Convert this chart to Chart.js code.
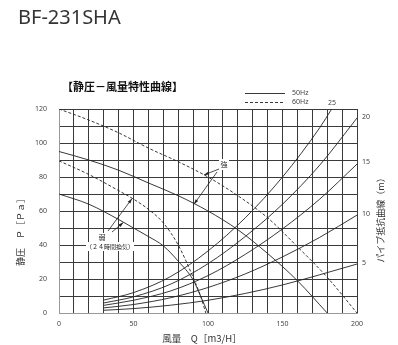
<!DOCTYPE html>
<html>
<head>
<meta charset="utf-8">
<script src="https://cdn.jsdelivr.net/npm/chart.js@4"></script>
<style>
  body { margin: 0; background: #fff; }
  #wrap { width: 398px; height: 345px; }
</style>
</head>
<body>
<div id="wrap"><canvas id="fanChart"></canvas></div>
<script>
// Fan curves (static pressure Pa vs air volume m3/h)
const strong60Flow = [0, 20, 40, 60, 80, 100, 120, 140, 160, 180, 200];
const strong60Pres = [120, 113.5, 106, 97, 89, 80, 69, 56, 39, 21, 0];
const strong50Flow = [0, 20, 40, 60, 80, 100, 120, 140, 160, 180];
const strong50Pres = [95, 90, 84, 76.5, 69, 60, 49, 35, 19, 0];
const weak60Flow = [0, 20, 40, 50, 60, 70, 80, 90, 95, 98.5];
const weak60Pres = [89.5, 81.5, 72, 67, 61, 53, 40, 21, 10, 0];
const weak50Flow = [0, 20, 40, 50, 60, 70, 80, 90, 95, 100];
const weak50Pres = [70, 64, 55, 50, 45, 39.5, 30.5, 19.5, 10, 0];

// Pipe resistance curves (m)
const pipeFlow = [30, 50, 75, 100, 125, 150, 175, 200];
const pipe25Flow = [30, 50, 75, 100, 125, 150, 175, 183];
const pipe25 = [7.6, 12, 21.5, 36.5, 56, 80, 109, 120];
const pipe20 = [5.9, 9.5, 17, 29, 45, 64, 87, 114.7];
const pipe15 = [4.5, 7.5, 13, 22, 34.5, 49.5, 67, 87.6];
const pipe10 = [3, 5, 9, 15, 23, 33, 44.5, 57.6];
const pipe5 = [1.6, 2.6, 4.6, 7.5, 11.5, 16.5, 22.5, 28.8];

const pipeLabels = ['20', '15', '10', '5'];
const pipeLabelY = [20, 15, 10, 5];

const xMin = 0, xMax = 200, xStep = 10, xLabelEvery = 50;
const yMin = 0, yMax = 120, yStep = 10, yLabelEvery = 20;

const ink = '#222';
const gridInk = '#3a3a3a';
const cjk = '"Noto Sans CJK JP", "Noto Sans", sans-serif';
const latin = '"Noto Sans", "DejaVu Sans", sans-serif';

function toPoints(xs, ys) {
  return xs.map((x, i) => ({ x: x, y: ys[i] }));
}

function curve(xs, ys, dashed) {
  return {
    data: toPoints(xs, ys),
    showLine: true,
    borderColor: ink,
    borderWidth: 0.9,
    borderDash: dashed ? [3, 2] : [],
    pointRadius: 0,
    cubicInterpolationMode: 'monotone',
    fill: false
  };
}

function arrow(ctx, x1, y1, x2, y2) {
  ctx.beginPath();
  ctx.moveTo(x1, y1);
  ctx.lineTo(x2, y2);
  ctx.stroke();
  const a = Math.atan2(y2 - y1, x2 - x1);
  ctx.beginPath();
  ctx.moveTo(x2, y2);
  ctx.lineTo(x2 - 5 * Math.cos(a) + 1.6 * Math.sin(a), y2 - 5 * Math.sin(a) - 1.6 * Math.cos(a));
  ctx.lineTo(x2 - 5 * Math.cos(a) - 1.6 * Math.sin(a), y2 - 5 * Math.sin(a) + 1.6 * Math.cos(a));
  ctx.closePath();
  ctx.fill();
}

// Texts, legend and arrows drawn on top
const decorations = {
  id: 'decorations',
  afterDraw(chart) {
    const ctx = chart.ctx;
    const xs = chart.scales.x, ys = chart.scales.y;
    const px = v => xs.getPixelForValue(v);
    const py = v => ys.getPixelForValue(v);
    ctx.save();
    ctx.fillStyle = '#333';
    ctx.font = '20px ' + latin;
    ctx.textBaseline = 'alphabetic';
    ctx.fillText('BF-231SHA', 18, 24);

    ctx.fillStyle = '#111';
    ctx.font = 'bold 11px ' + cjk;
    ctx.textBaseline = 'middle';
    ctx.fillText('【静圧－風量特性曲線】', 62, 87);

    // legend
    ctx.strokeStyle = ink;
    ctx.lineWidth = 0.9;
    ctx.beginPath(); ctx.moveTo(245, 93.5); ctx.lineTo(285, 93.5); ctx.stroke();
    ctx.setLineDash([3, 2]);
    ctx.beginPath(); ctx.moveTo(245, 102.5); ctx.lineTo(285, 102.5); ctx.stroke();
    ctx.setLineDash([]);
    ctx.fillStyle = '#444';
    ctx.font = '7px ' + latin;
    ctx.fillText('50Hz', 292, 93);
    ctx.fillText('60Hz', 292, 102);
    ctx.fillText('25', 328, 103);

    // pipe curve labels on the right
    pipeLabels.forEach((t, i) => {
      ctx.fillText(t, 362, [117, 162, 214, 263][i]);
    });

    // axis titles
    ctx.fillStyle = '#333';
    ctx.font = '9px ' + cjk;
    ctx.textAlign = 'center';
    ctx.save();
    ctx.translate(381, 218);
    ctx.rotate(-Math.PI / 2);
    ctx.fillText('パイプ抵抗曲線（m）', 0, 0);
    ctx.restore();
    ctx.save();
    ctx.translate(21, 230);
    ctx.rotate(-Math.PI / 2);
    ctx.fillText('静圧　Ｐ［Ｐａ］', 0, 0);
    ctx.restore();
    ctx.font = '9.5px ' + cjk;
    ctx.fillText('風量　Q［m3/H］', 202, 338);

    // annotations
    ctx.strokeStyle = ink;
    ctx.fillStyle = ink;
    ctx.lineWidth = 0.8;
    arrow(ctx, 219, 169, px(97.3), py(81.2));
    arrow(ctx, 217, 172, px(90.6), py(64));
    arrow(ctx, 108, 231, px(49), py(67.3));
    arrow(ctx, 112, 232, px(43.2), py(53.2));

    ctx.fillStyle = '#fff';
    ctx.fillRect(219, 159, 10, 11);
    ctx.fillRect(97, 233, 10, 9);
    ctx.fillRect(86, 242, 48, 9);
    ctx.fillStyle = '#222';
    ctx.font = '7px ' + cjk;
    ctx.fillText('強', 224, 164.5);
    ctx.fillText('弱', 102, 237.5);
    ctx.font = '6px ' + cjk;
    ctx.fillText('（２４時間換気）', 110, 246.5);
    ctx.restore();
  }
};

const datasets = [
  curve(strong60Flow, strong60Pres, true),
  curve(strong50Flow, strong50Pres, false),
  curve(weak60Flow, weak60Pres, true),
  curve(weak50Flow, weak50Pres, false),
  curve(pipe25Flow, pipe25, false),
  curve(pipeFlow, pipe20, false),
  curve(pipeFlow, pipe15, false),
  curve(pipeFlow, pipe10, false),
  curve(pipeFlow, pipe5, false)
];

new Chart(document.getElementById('fanChart'), {
  type: 'scatter',
  data: { datasets: datasets },
  options: {
    responsive: true,
    maintainAspectRatio: false,
    animation: false,
    layout: { padding: { top: 109, right: 41, left: 0, bottom: 0 } },
    plugins: { legend: { display: false }, tooltip: { enabled: false } },
    scales: {
      x: {
        type: 'linear',
        min: xMin, max: xMax,
        afterFit: s => { s.height = 32; },
        grid: { color: gridInk, lineWidth: 1, drawTicks: false },
        border: { color: '#999', width: 1 },
        ticks: {
          stepSize: xStep, autoSkip: false, maxRotation: 0, padding: 7,
          color: '#444', font: { size: 7, family: latin },
          callback: v => (v % xLabelEvery === 0 ? v : '')
        }
      },
      y: {
        min: yMin, max: yMax,
        afterFit: s => { s.width = 59; },
        grid: { color: gridInk, lineWidth: 1, drawTicks: false },
        border: { color: '#999', width: 1 },
        ticks: {
          stepSize: yStep, autoSkip: false, padding: 12,
          color: '#444', font: { size: 7, family: latin },
          callback: v => (v % yLabelEvery === 0 ? v : '')
        }
      }
    }
  },
  plugins: [decorations]
});
</script>
</body>
</html>
